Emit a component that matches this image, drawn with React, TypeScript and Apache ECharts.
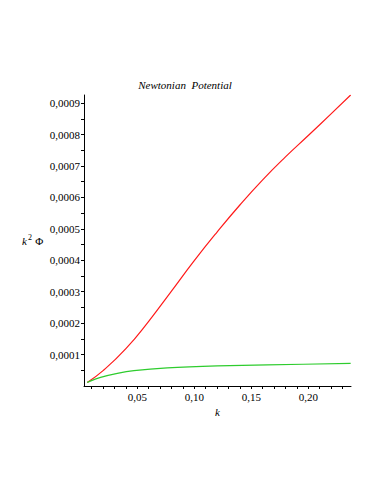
import React, { useEffect, useRef } from "react";
import * as echarts from "echarts";

const titleText = "Newtonian  Potential";
const kRed = [0.0061, 0.02, 0.04, 0.06, 0.08, 0.1, 0.12, 0.14, 0.16, 0.18, 0.2, 0.22, 0.2372];
const redVals = [0.0000115, 0.000049, 0.000119, 0.000206, 0.000302, 0.000399, 0.00049, 0.000576, 0.000656, 0.000729, 0.000797, 0.000866, 0.000926];
const kGreen = [0.0061, 0.0178, 0.0325, 0.0471, 0.0763, 0.1202, 0.164, 0.2372];
const greenVals = [0.0000115, 0.0000274, 0.0000402, 0.0000488, 0.0000574, 0.0000638, 0.000067, 0.0000721];
const xLabelValues = [0.05, 0.1, 0.15, 0.2];
const xTickValues = [0.01, 0.02, 0.03, 0.04, 0.05, 0.06, 0.07, 0.08, 0.09, 0.1, 0.11, 0.12, 0.13, 0.14, 0.15, 0.16, 0.17, 0.18, 0.19, 0.2, 0.21, 0.22, 0.23];
const yLabelValues = [0.0001, 0.0002, 0.0003, 0.0004, 0.0005, 0.0006, 0.0007, 0.0008, 0.0009];
const yTickValues = [0.00005, 0.0001, 0.00015, 0.0002, 0.00025, 0.0003, 0.00035, 0.0004, 0.00045, 0.0005, 0.00055, 0.0006, 0.00065, 0.0007, 0.00075, 0.0008, 0.00085, 0.0009];

const FONT = "Liberation Serif, Times New Roman, DejaVu Serif, serif";

export default function App() {
  const ref = useRef<HTMLDivElement>(null);
  useEffect(() => {
    const chart = echarts.init(ref.current!, null, { renderer: "svg" });
    const fmtX = (v: number) => v.toFixed(2).replace(".", ",");
    const fmtY = (v: number) => v.toFixed(4).replace(".", ",");
    chart.setOption({
      animation: false,
      backgroundColor: "#ffffff",
      textStyle: { fontFamily: FONT },
      title: {
        text: titleText,
        left: 185,
        textAlign: "center",
        top: 79,
        padding: 0,
        textStyle: { fontFamily: FONT, fontStyle: "italic", fontWeight: "normal", fontSize: 11, color: "#000" },
      },
      grid: { left: 84, right: 31, top: 95, bottom: 108 },
      xAxis: {
        type: "value",
        min: 0.00325,
        max: 0.2375,
        name: "k",
        nameLocation: "middle",
        nameGap: 17,
        nameTextStyle: { fontFamily: FONT, fontStyle: "italic", fontSize: 11, color: "#000" },
        axisLine: { show: true, onZero: false, lineStyle: { color: "#000", width: 1 } },
        axisTick: { show: true, length: 3, customValues: xTickValues, lineStyle: { color: "#000" } },
        axisLabel: { customValues: xLabelValues, formatter: fmtX, fontFamily: FONT, fontSize: 11, color: "#000", margin: 5 },
        splitLine: { show: false },
      },
      yAxis: {
        type: "value",
        min: 0,
        max: 0.000926,
        axisLine: { show: true, onZero: false, lineStyle: { color: "#000", width: 1 } },
        axisTick: { show: true, length: 3, customValues: yTickValues, lineStyle: { color: "#000" } },
        axisLabel: { customValues: yLabelValues, formatter: fmtY, fontFamily: FONT, fontSize: 11, color: "#000", margin: 4 },
        splitLine: { show: false },
      },
      graphic: [
        {
          type: "text",
          left: 22,
          top: 233,
          style: {
            text: "{k|k}{s|2} {p|Φ}",
            rich: {
              k: { fontFamily: FONT, fontStyle: "italic", fontSize: 11, fill: "#000", verticalAlign: "bottom" },
              s: { fontFamily: FONT, fontSize: 8, fill: "#000", verticalAlign: "top", padding: [0, 0, 5, 1] },
              p: { fontFamily: FONT, fontSize: 11, fill: "#000", verticalAlign: "bottom" },
            },
          },
        },
      ],
      series: [
        {
          type: "line",
          data: kRed.map((k, i) => [k, redVals[i]]),
          smooth: true,
          showSymbol: false,
          lineStyle: { color: "#ff1a1a", width: 1.2 },
        },
        {
          type: "line",
          data: kGreen.map((k, i) => [k, greenVals[i]]),
          smooth: 0.3,
          showSymbol: false,
          lineStyle: { color: "#2ecc2e", width: 1.2 },
        },
      ],
    });
    return () => chart.dispose();
  }, []);
  return <div ref={ref} style={{ position: "fixed", left: 0, top: 0, width: 382, height: 494, background: "#fff" }} />;
}
